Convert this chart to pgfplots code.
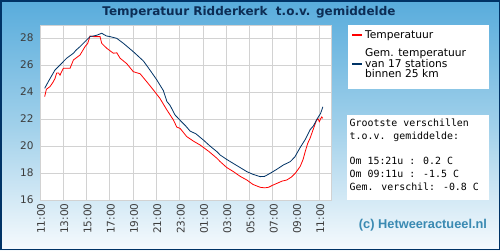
\documentclass[border=0pt]{standalone}
\usepackage{pgfplots}
\pgfplotsset{compat=1.18}
\usepackage{fontspec}
\setmainfont{DejaVu Sans}
\newfontfamily\titlefont{Liberation Sans}
\newfontfamily\monofont{DejaVu Sans Mono}
\definecolor{navy}{RGB}{0,51,102}
\definecolor{titlec}{RGB}{12,45,85}
\definecolor{bgtop}{RGB}{88,172,220}
\definecolor{bgbot}{RGB}{246,250,253}
\definecolor{gridc}{RGB}{210,210,210}
\definecolor{tickc}{RGB}{60,60,60}
\definecolor{copyc}{RGB}{58,138,178}
\begin{document}
\begin{tikzpicture}[x=1pt,y=1pt]
\useasboundingbox (0,0) rectangle (500,250);
\shade[top color=bgtop, bottom color=bgbot, middle color={rgb,255:red,160;green,208;blue,234}] (0,0) rectangle (500,250);
\draw[navy, line width=1.5pt] (0.75,0.75) rectangle (499.25,249.25);
\node[font=\bfseries\fontsize{12}{14}\selectfont, text=titlec] at (249,238) {Temperatuur Ridderkerk\ \ t.o.v. gemiddelde};
\fill[white] (348,161) rectangle (489,225);
\fill[white] (347,50) rectangle (489,135);
\node[anchor=north west, inner sep=0pt, align=left, font=\monofont\fontsize{9.9}{12.7}\selectfont] at (349.5,131) {Grootste verschillen\\t.o.v. gemiddelde:\\[12.7pt]Om 15:21u : 0.2 C\\Om 09:11u : -1.5 C\\Gem. verschil: -0.8 C};
\node[font=\titlefont\bfseries\fontsize{12.8}{14}\selectfont, text=copyc] at (423,25) {(c) Hetweeractueel.nl};
\begin{axis}[
  at={(40pt,50pt)}, anchor=south west, scale only axis,
  width=291pt, height=175pt,
  xmin=0, xmax=25, ymin=16, ymax=28.96,
  axis background/.style={fill=white},
  axis line style={draw=gridc},
  grid=major, grid style={draw=gridc, line width=0.8pt},
  major tick length=0pt,
  xtick={0,2,...,24},
  xticklabels={11:00,13:00,15:00,17:00,19:00,21:00,23:00,01:00,03:00,05:00,07:00,09:00,11:00},
  ytick={16,18,...,28},
  tick label style={font=\fontsize{10.5}{12}\selectfont, text=tickc},
  xticklabel style={rotate=90, anchor=east, xshift=0pt, yshift=-1pt},
  yticklabel style={xshift=-3pt},
  /pgf/number format/assume math mode=true,
  legend style={at={(1.058,1)}, anchor=north west, draw=none, fill=none,
    font=\fontsize{10.7}{10.7}\selectfont, cells={align=left}, row sep=5pt, inner xsep=3pt, inner ysep=3pt},
  legend cell align=left,
  legend image code/.code={\draw[#1, line width=2pt] (0pt,0pt) -- (10pt,0pt);},
]
\addplot[red, line width=0.8pt] coordinates {
(0.4,23.65)(0.55,24.2)(0.86,24.4)(1.1,24.7)(1.29,25.0)(1.43,25.4)(1.6,25.4)(1.72,25.25)(2.0,25.75)(2.58,25.75)(2.87,26.37)(3.44,26.74)(3.87,27.36)(4.1,27.6)(4.3,28.15)(4.6,28.1)(5.16,28.1)(5.3,27.6)(5.73,27.24)(6.3,26.87)(6.6,26.9)(6.88,26.5)(7.45,26.1)(8.02,25.5)(8.6,25.35)(9.17,24.76)(9.74,24.15)(10.3,23.53)(10.9,22.67)(11.46,21.93)(11.75,21.4)(12.04,21.3)(12.6,20.7)(13.2,20.35)(13.76,20.07)(14.5,19.6)(15.2,19.09)(15.48,18.84)(16.05,18.4)(16.62,18.1)(17.2,17.75)(17.77,17.48)(18.3,17.15)(18.92,16.94)(19.3,16.9)(19.63,16.94)(20.0,17.1)(20.35,17.23)(20.8,17.4)(21.2,17.48)(21.6,17.7)(21.93,17.98)(22.2,18.3)(22.36,18.5)(22.6,19.0)(22.79,19.6)(23.0,20.2)(23.2,20.57)(23.5,21.3)(23.75,21.9)(23.9,22.0)(24.0,21.8)(24.1,22.0)(24.2,22.15)(24.3,22.05)
};
\addlegendentry{Temperatuur}
\addplot[navy, line width=0.8pt] coordinates {
(0.4,24.27)(0.8,24.9)(1.29,25.63)(1.72,26.0)(2.29,26.5)(2.87,26.87)(3.1,27.1)(3.44,27.36)(3.87,27.73)(4.3,28.1)(4.87,28.2)(5.3,28.35)(5.7,28.15)(6.02,28.1)(6.6,27.97)(7.17,27.6)(8.02,26.98)(8.88,26.3)(9.3,25.8)(9.74,25.26)(10.03,24.9)(10.6,24.1)(10.9,23.3)(11.18,23.0)(11.6,22.3)(12.04,21.9)(12.5,21.5)(12.9,21.1)(13.4,20.9)(14.04,20.44)(14.6,20.0)(15.2,19.58)(15.48,19.33)(16.05,19.0)(16.62,18.7)(17.2,18.4)(17.77,18.1)(18.3,17.9)(18.92,17.73)(19.3,17.75)(19.78,17.98)(20.3,18.25)(20.92,18.6)(21.5,18.84)(21.9,19.2)(22.36,19.9)(22.8,20.5)(23.2,21.2)(23.5,21.5)(23.8,22.0)(24.1,22.4)(24.3,22.9)
};
\addlegendentry{Gem. temperatuur\\van 17 stations\\binnen 25 km}
\end{axis}
\end{tikzpicture}
\end{document}
